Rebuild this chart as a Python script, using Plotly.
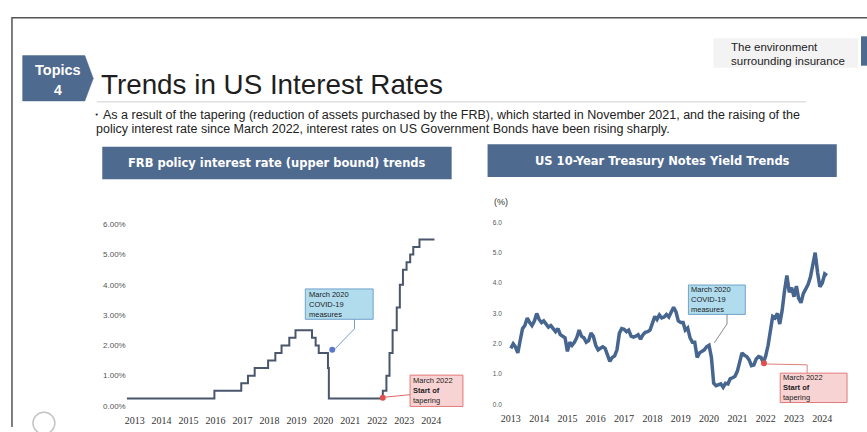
import plotly.graph_objects as go

W, H = 867, 432

# ---------------- data ----------------
frb_dates = ["2012-09-15", "2015-12-17", "2016-12-15", "2017-03-16", "2017-06-15", "2017-12-14",
             "2018-03-22", "2018-06-14", "2018-09-27", "2018-12-20", "2019-08-01", "2019-09-19",
             "2019-10-31", "2020-03-04", "2020-03-16", "2022-03-17", "2022-05-05", "2022-06-16",
             "2022-07-28", "2022-09-22", "2022-11-03", "2022-12-15", "2023-02-02", "2023-03-23",
             "2023-05-04", "2023-07-27", "2024-02-15"]
frb_rates = [0.25, 0.50, 0.75, 1.00, 1.25, 1.50, 1.75, 2.00, 2.25, 2.50, 2.25, 2.00,
             1.75, 1.25, 0.25, 0.50, 1.00, 1.75, 2.50, 3.25, 4.00, 4.50, 4.75, 5.00,
             5.25, 5.50, 5.50]

years = [2013, 2014, 2015, 2016, 2017, 2018, 2019, 2020, 2021, 2022, 2023, 2024]
y10_2013 = [1.85, 2.00, 1.90, 1.70, 2.10, 2.50, 2.60, 2.85, 2.70, 2.60, 2.75, 3.00]
y10_2014 = [2.80, 2.70, 2.75, 2.65, 2.55, 2.60, 2.50, 2.40, 2.50, 2.30, 2.25, 2.20]
y10_2015 = [1.75, 2.05, 1.95, 2.05, 2.20, 2.45, 2.25, 2.20, 2.05, 2.10, 2.35, 2.25]
y10_2016 = [1.95, 1.80, 1.85, 1.90, 1.85, 1.60, 1.42, 1.55, 1.60, 1.80, 2.35, 2.50]
y10_2017 = [2.48, 2.40, 2.45, 2.25, 2.22, 2.25, 2.30, 2.15, 2.30, 2.38, 2.40, 2.45]
y10_2018 = [2.70, 2.90, 2.80, 2.95, 2.85, 2.88, 2.96, 2.88, 3.05, 3.20, 3.05, 2.75]
y10_2019 = [2.70, 2.70, 2.45, 2.52, 2.20, 2.05, 2.05, 1.55, 1.70, 1.75, 1.80, 1.90]
y10_2020 = [1.95, 1.55, 0.70, 0.62, 0.66, 0.68, 0.57, 0.70, 0.68, 0.85, 0.88, 0.93]
y10_2021 = [1.10, 1.40, 1.70, 1.62, 1.58, 1.47, 1.28, 1.30, 1.50, 1.58, 1.55, 1.38]
y10_2022 = [1.60, 1.95, 2.35, 2.90, 2.85, 3.00, 2.65, 3.10, 3.75, 4.25, 3.70, 3.85]
y10_2023 = [3.55, 3.90, 3.50, 3.35, 3.65, 3.80, 3.95, 4.20, 4.55, 5.00, 4.35, 3.88]
y10_2024 = [4.00, 4.30, 4.25]
y10_by_year = [y10_2013, y10_2014, y10_2015, y10_2016, y10_2017, y10_2018,
               y10_2019, y10_2020, y10_2021, y10_2022, y10_2023, y10_2024]

tick_years = [str(y) for y in years]
left_ytick_vals = [0, 1, 2, 3, 4, 5, 6]
left_ytick_text = ["0.00%", "1.00%", "2.00%", "3.00%", "4.00%", "5.00%", "6.00%"]
right_ytick_text = ["0.0", "1.0", "2.0", "3.0", "4.0", "5.0", "6.0"]

# event markers
frb_event_dates = ["2020-05-01", "2022-03-17"]
frb_event_vals = [1.86, 0.27]
y10_event_dates = ["2021-12-10"]
y10_event_vals = [1.36]

# ---------------- build ----------------
y10_dates, y10_vals = [], []
for yr, vals in zip(years, y10_by_year):
    for m, v in enumerate(vals):
        y10_dates.append(f"{yr}-{m + 1:02d}-01")
        y10_vals.append(v)

def px(x):
    return x / W

def py(y):
    return 1 - y / H

BLUE = "#4f6a8f"
fig = go.Figure()

fig.add_trace(go.Scatter(x=frb_dates, y=frb_rates, mode="lines", line=dict(shape="hv", color="#4a566b", width=2),
                         xaxis="x", yaxis="y", hoverinfo="skip"))
fig.add_trace(go.Scatter(x=frb_event_dates, y=frb_event_vals, mode="markers",
                         marker=dict(color=["#5a78c8", "#e05050"], size=6),
                         xaxis="x", yaxis="y", hoverinfo="skip"))
fig.add_trace(go.Scatter(x=y10_dates, y=y10_vals, mode="lines", line=dict(color="#46658f", width=3.5),
                         xaxis="x2", yaxis="y2", hoverinfo="skip"))
fig.add_trace(go.Scatter(x=y10_event_dates, y=y10_event_vals, mode="markers",
                         marker=dict(color="#e05050", size=6),
                         xaxis="x2", yaxis="y2", hoverinfo="skip"))

year_ticks = [f"{y}-01-01" for y in years]
xcommon = dict(showgrid=False, zeroline=False, showline=False, ticks="", tickvals=year_ticks,
               ticktext=tick_years, tickfont=dict(family="Liberation Serif", size=10, color="#333"),
               type="date", ticklabelstandoff=7)
ycommon = dict(showgrid=False, zeroline=False, showline=False, ticks="", range=[0, 6],
               tickvals=left_ytick_vals)

fig.update_layout(
    width=W, height=H, margin=dict(l=0, r=0, t=0, b=0),
    paper_bgcolor="white", plot_bgcolor="rgba(0,0,0,0)", showlegend=False,
    xaxis=dict(xcommon, domain=[px(125), px(445)], range=["2012-09-15", "2024-07-20"], anchor="y"),
    yaxis=dict(ycommon, domain=[1 - 410.5 / H, 1 - 225 / H], ticktext=left_ytick_text,
               tickfont=dict(family="Liberation Sans", size=8, color="#555"), anchor="x"),
    xaxis2=dict(xcommon, domain=[px(502), px(840)], range=["2012-09-20", "2024-08-17"], anchor="y2"),
    yaxis2=dict(ycommon, domain=[1 - 409 / H, 1 - 223 / H], ticktext=right_ytick_text,
                tickfont=dict(family="Liberation Sans", size=6.5, color="#555"), anchor="x2"),
)

shapes = []
def rect(x0, y0, x1, y1, fill, line=None, lw=1):
    shapes.append(dict(type="rect", xref="paper", yref="paper", x0=px(x0), x1=px(x1), y0=py(y1), y1=py(y0),
                       fillcolor=fill, line=dict(color=line or fill, width=lw if line else 0), layer="below"))

def path(points, color, width=1, fill=None, closed=False):
    d = "M " + " L ".join(f"{px(x):.5f},{py(y):.5f}" for x, y in points)
    if closed:
        d += " Z"
    shapes.append(dict(type="path", xref="paper", yref="paper", path=d,
                       line=dict(color=color, width=width), fillcolor=fill, layer="above"))

# frame
path([(10, 432), (10, 14), (867, 14)], "#555", 1.5)
# topics pentagon
path([(20.7, 52.7), (83, 52.7), (91.5, 76), (83, 99), (20.7, 99)], BLUE, 0.5, fill=BLUE, closed=True)
# title underline
path([(95, 100), (806, 100)], "#d0d0d0", 1)
# top right box
rect(713, 35, 858, 65, "#f3f3f3")
rect(861, 33, 867, 63, BLUE)
# headers
rect(100.5, 145.7, 450.7, 179, BLUE)
rect(486.7, 143.3, 836.7, 176.7, BLUE)
# bottom-left circle
shapes.append(dict(type="circle", xref="paper", yref="paper", x0=px(31), x1=px(53), y0=py(439), y1=py(417),
                   line=dict(color="#c4c4c4", width=1.5)))

# annotation boxes
rect(304, 291, 372, 322, "#b0dcee", "#6fa3cc", 1)
rect(409, 379, 462, 411, "#f8d3d3", "#e27a7a", 1)
rect(688, 287, 745, 317, "#b0dcee", "#6fa3cc", 1)
rect(780, 377, 847, 407, "#f8d3d3", "#e27a7a", 1)
# connectors
path([(353.3, 322), (353.3, 331.7), (334, 352)], "#7d9cbf", 1)
path([(384, 401.5), (409, 399)], "#e06a6a", 1)
path([(726.7, 317), (726.7, 326.7), (714, 346)], "#888", 1)
path([(767, 367.7), (807, 368.5), (807, 377)], "#e08080", 1)

fig.update_layout(shapes=shapes)

ann = []
def text(x, y, s, size, color="#222", family="Liberation Sans", xanchor="left", yanchor="middle", align="left"):
    ann.append(dict(xref="paper", yref="paper", x=px(x), y=py(y), text=s, showarrow=False,
                    xanchor=xanchor, yanchor=yanchor, align=align,
                    font=dict(family=family, size=size, color=color)))

text(56.5, 67.5, "<b>Topics</b>", 14.5, "white", xanchor="center")
text(56.5, 88, "<b>4</b>", 14, "white", xanchor="center")
text(97, 82, "Trends in US Interest Rates", 27.8, "#1e1e1e")
text(86, 113.5, "・As a result of the tapering (reduction of assets purchased by the FRB), which started in November 2021, and the raising of the",
     12.5, "#222")
text(92, 128, "policy interest rate since March 2022, interest rates on US Government Bonds have been rising sharply.",
     12.5, "#222")
text(729, 43.5, "The environment", 11.5, "#222")
text(729, 58, "surrounding insurance", 11.5, "#222")
text(276, 162.5, "<b>FRB policy interest rate (upper bound) trends</b>", 11.5, "white", family="DejaVu Sans", xanchor="center")
text(662, 160, "<b>US 10-Year Treasury Notes Yield Trends</b>", 11.5, "white", family="DejaVu Sans", xanchor="center")
text(500, 202, "(%)", 9, "#333", xanchor="center")

text(306, 306.5, "March 2020<br>COVID-19<br>measures", 7.5, "#222")
text(410, 395, "March 2022<br><b>Start of</b><br>tapering", 7.5, "#222")
text(689, 302, "March 2020<br>COVID-19<br>measures", 7.5, "#222")
text(781, 392, "March 2022<br><b>Start of</b><br>tapering", 7.5, "#222")

fig.update_layout(annotations=ann)
fig.write_html("out.html")
